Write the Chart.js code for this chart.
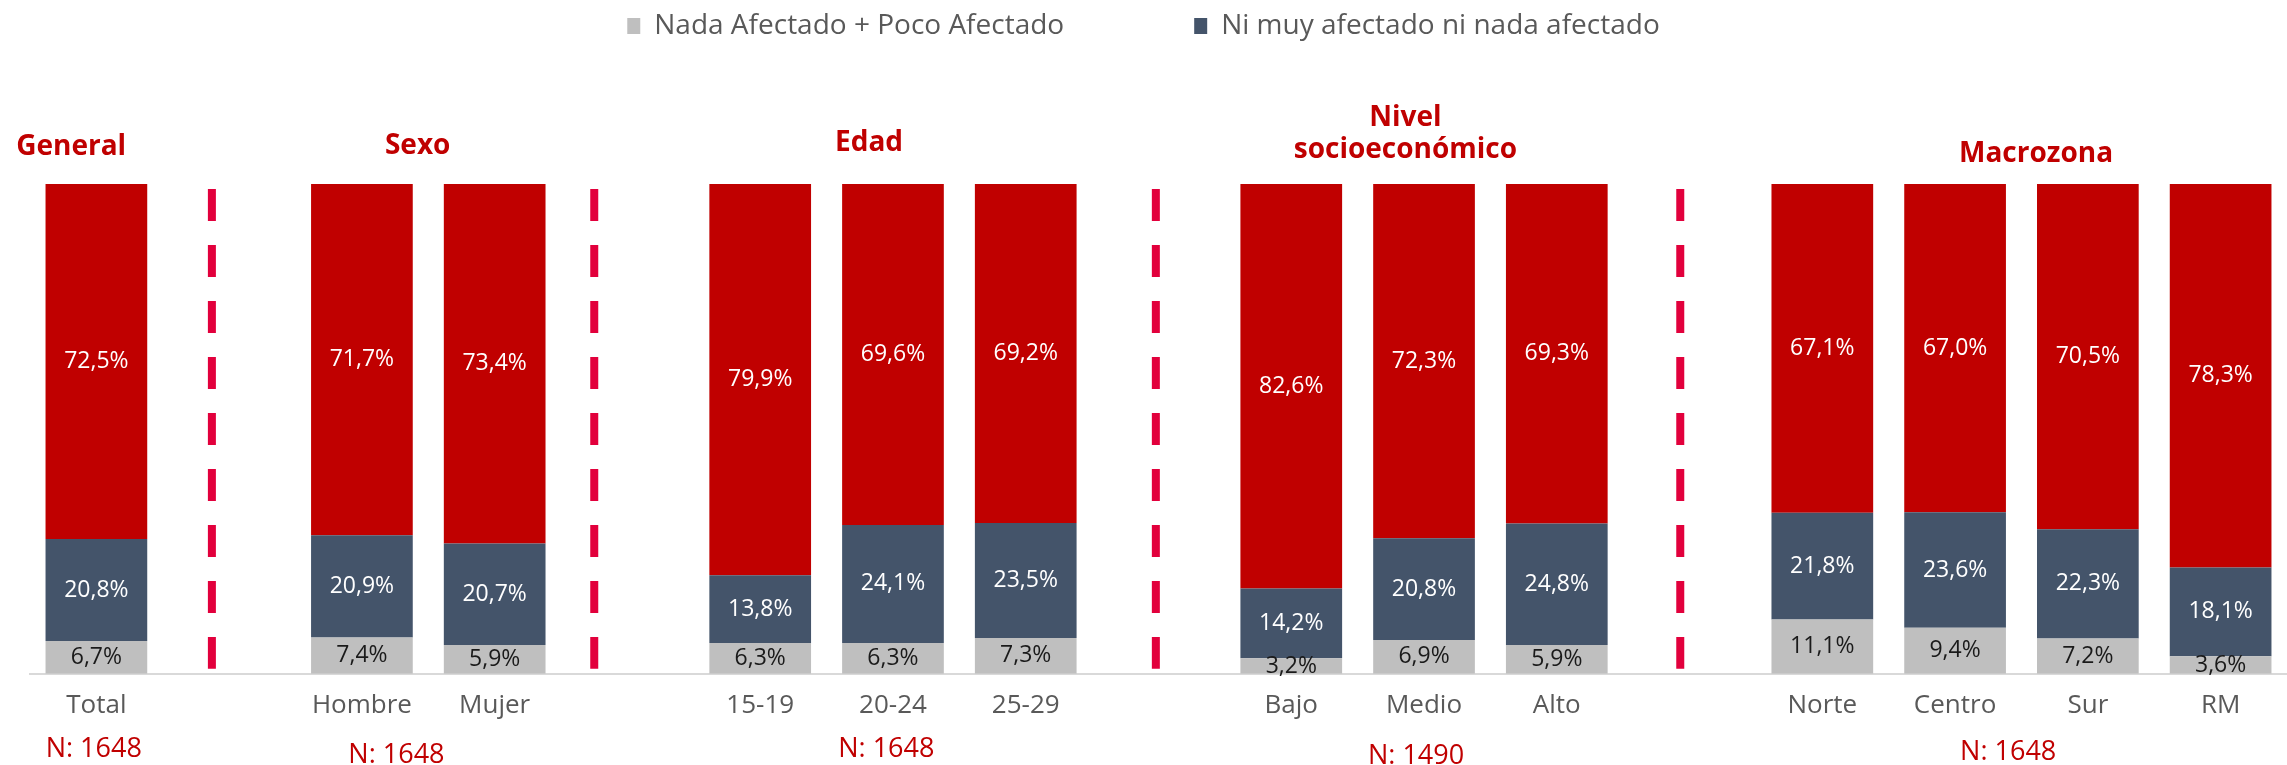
<!DOCTYPE html>
<html>
<head>
<meta charset="utf-8">
<script src="https://cdn.jsdelivr.net/npm/chart.js@4"></script>
<style>
  html, body { margin: 0; padding: 0; background: #ffffff; }
  #wrap { width: 2287px; height: 765px; }
</style>
</head>
<body>
<div id="wrap"><canvas id="impactoChart"></canvas></div>
<script>
// categories, with an empty slot between each segment group
const categories = ['Total', '', 'Hombre', 'Mujer', '', '15-19', '20-24', '25-29', '',
  'Bajo', 'Medio', 'Alto', '', 'Norte', 'Centro', 'Sur', 'RM'];

const nadaPoco    = [6.7, null, 7.4, 5.9, null, 6.3, 6.3, 7.3, null, 3.2, 6.9, 5.9, null, 11.1, 9.4, 7.2, 3.6];
const niMuyNiNada = [20.8, null, 20.9, 20.7, null, 13.8, 24.1, 23.5, null, 14.2, 20.8, 24.8, null, 21.8, 23.6, 22.3, 18.1];
const afectado    = [72.5, null, 71.7, 73.4, null, 79.9, 69.6, 69.2, null, 82.6, 72.3, 69.3, null, 67.1, 67.0, 70.5, 78.3];

const groupTitles = [['General'], ['Sexo'], ['Edad'], ['Nivel', 'socioeconómico'], ['Macrozona']];
const groupSizes  = ['N: 1648', 'N: 1648', 'N: 1648', 'N: 1490', 'N: 1648'];
const groupSpans  = [[0, 0], [2, 3], [5, 7], [9, 11], [13, 16]];
const separatorSlots = [1, 4, 8, 12];

// small hand placement tweaks (slot fractions / px from chart area)
const titlePlacement = [
  { dx: -0.19, dy: [-29] },
  { dx: -0.08, dy: [-30] },
  { dx: -0.18, dy: [-33] },
  { dx: -0.14, dy: [-58, -26.5] },
  { dx: 0.11,  dy: [-22] }
];
const sizePlacement = [
  { dx: -0.02, dy: 83 },
  { dx: -0.24, dy: 89 },
  { dx: -0.05, dy: 83 },
  { dx: -0.06, dy: 90 },
  { dx: -0.10, dy: 86 }
];
const separatorShift = [-0.13, -0.25, -0.02, -0.07];

const FONT = '"Open Sans", "DejaVu Sans", sans-serif';
const RED = '#C00000';

const fmt = v => v.toFixed(1).replace('.', ',') + '%';

const decorations = {
  id: 'decorations',
  afterDatasetsDraw(chart) {
    const { ctx, chartArea, scales: { x } } = chart;
    const slot = x.getPixelForValue(1) - x.getPixelForValue(0);
    ctx.save();

    // dashed separators between groups
    ctx.strokeStyle = '#E2003C';
    ctx.lineWidth = 8;
    ctx.setLineDash([32, 24]);
    separatorSlots.forEach((s, i) => {
      const px = x.getPixelForValue(s) + separatorShift[i] * slot;
      ctx.beginPath();
      ctx.moveTo(px, chartArea.top + 5);
      ctx.lineTo(px, chartArea.bottom - 5);
      ctx.stroke();
    });
    ctx.setLineDash([]);

    // value labels centred in each segment
    ctx.textAlign = 'center';
    ctx.textBaseline = 'middle';
    ctx.font = '23px ' + FONT;
    chart.data.datasets.forEach((ds, i) => {
      const meta = chart.getDatasetMeta(i);
      ctx.fillStyle = i === 0 ? '#1A1A1A' : '#FFFFFF';
      meta.data.forEach((bar, j) => {
        const v = ds.data[j];
        if (v == null) return;
        const p = bar.getProps(['x', 'y', 'base'], true);
        ctx.fillText(fmt(v), p.x, (p.y + p.base) / 2);
      });
    });

    // group titles and sample sizes
    ctx.textBaseline = 'alphabetic';
    ctx.fillStyle = RED;
    groupSpans.forEach((span, g) => {
      const cx = (x.getPixelForValue(span[0]) + x.getPixelForValue(span[1])) / 2;
      ctx.font = 'bold 28px ' + FONT;
      groupTitles[g].forEach((line, k) => {
        ctx.fillText(line, cx + titlePlacement[g].dx * slot, chartArea.top + titlePlacement[g].dy[k]);
      });
      ctx.font = '27px ' + FONT;
      ctx.fillText(groupSizes[g], cx + sizePlacement[g].dx * slot, chartArea.bottom + sizePlacement[g].dy);
    });
    ctx.restore();
  }
};

new Chart(document.getElementById('impactoChart'), {
  type: 'bar',
  data: {
    labels: categories,
    datasets: [
      { label: 'Nada Afectado + Poco Afectado', data: nadaPoco, backgroundColor: '#BFBFBF' },
      { label: 'Ni muy afectado ni nada afectado', data: niMuyNiNada, backgroundColor: '#44546A' },
      { label: 'Muy afectado + Algo afectado', data: afectado, backgroundColor: RED }
    ]
  },
  options: {
    responsive: true,
    maintainAspectRatio: false,
    animation: false,
    datasets: { bar: { barPercentage: 0.766, categoryPercentage: 1 } },
    layout: { padding: { top: -118, right: 0, bottom: 28, left: 0 } },
    scales: {
      x: {
        stacked: true,
        grid: { display: false, drawTicks: false },
        border: { display: true, color: '#D9D9D9', width: 2 },
        ticks: { color: '#595959', font: { family: FONT, size: 26 }, padding: 16, maxRotation: 0, autoSkip: false }
      },
      y: {
        stacked: true,
        min: 0,
        max: 100,
        grid: { display: false },
        border: { display: false },
        ticks: { display: false },
        // keep a blank strip on the left of the plot
        afterFit(scale) { scale.width = 30; }
      }
    },
    plugins: {
      legend: {
        weight: 3000,
        labels: {
          filter: item => item.datasetIndex < 2,
          boxWidth: 13,
          boxHeight: 16,
          padding: 130,
          color: '#595959',
          font: { family: FONT, size: 28 }
        }
      },
      title: { display: true, text: '', padding: { top: 0, bottom: 132.8 }, font: { size: 1 } },
      tooltip: { enabled: false }
    }
  },
  plugins: [decorations]
});
</script>
</body>
</html>
